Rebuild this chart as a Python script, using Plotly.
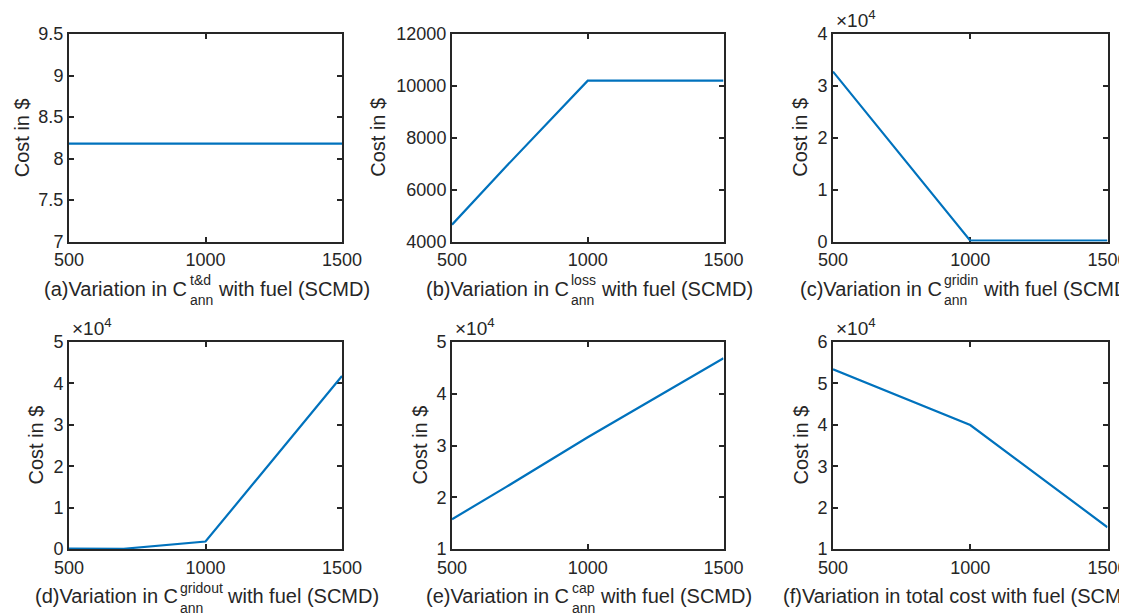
import plotly.graph_objects as go

# ---------------- data ----------------
fuel_x = [500, 700, 1000, 1500]
x_tick_vals = [500, 1000, 1500]
x_tick_text = ["500", "1000", "1500"]

cost_td = [8.18, 8.18, 8.18, 8.18]
cost_loss = [4650, 6900, 10200, 10200]
cost_gridin = [32750, 19700, 150, 150]
cost_gridout = [120, 60, 1800, 41800]
cost_cap = [15750, 22000, 31600, 46850]
cost_total = [53400, 48000, 39950, 15250]

yt_a_vals = [7, 7.5, 8, 8.5, 9, 9.5]
yt_a_text = ["7", "7.5", "8", "8.5", "9", "9.5"]
yt_b_vals = [4000, 6000, 8000, 10000, 12000]
yt_b_text = ["4000", "6000", "8000", "10000", "12000"]
yt_c_vals = [0, 10000, 20000, 30000, 40000]
yt_c_text = ["0", "1", "2", "3", "4"]
yt_d_vals = [0, 10000, 20000, 30000, 40000, 50000]
yt_d_text = ["0", "1", "2", "3", "4", "5"]
yt_e_vals = [10000, 20000, 30000, 40000, 50000]
yt_e_text = ["1", "2", "3", "4", "5"]
yt_f_vals = [10000, 20000, 30000, 40000, 50000, 60000]
yt_f_text = ["1", "2", "3", "4", "5", "6"]

captions = [
    ("(a)Variation in C", "t&amp;d", "ann", "with fuel (SCMD)"),
    ("(b)Variation in C", "loss", "ann", "with fuel (SCMD)"),
    ("(c)Variation in C", "gridin", "ann", "with fuel (SCMD)"),
    ("(d)Variation in C", "gridout", "ann", "with fuel (SCMD)"),
    ("(e)Variation in C", "cap", "ann", "with fuel (SCMD)"),
    ("(f)Variation in total cost with fuel (SCMD)", None, None, None),
]
y_title = "Cost in $"
exp_label = "×10<sup>4</sup>"

# ---------------- layout geometry ----------------
OFF = 8                      # default page body margin
W, H = 1127 - OFF, 615 - OFF
FONT = "Liberation Sans, Arial, Helvetica, sans-serif"
TXT = "#262626"
cols = [(69, 342), (452, 723.5), (833, 1107.5)]
rows = [(34, 241.5), (342, 549)]
ytitle_x = [[21.5, 378, 800], [35, 419, 800]]
cap_shift = [[0, 0, -4], [0, 0, -7]]

WID = {' ': 278, '(': 333, ')': 333, 'a': 556, 'b': 556, 'c': 500, 'd': 556, 'e': 556,
       'f': 278, 'g': 556, 'h': 556, 'i': 222, 'l': 222, 'n': 556, 'o': 556, 'p': 556,
       'r': 333, 's': 500, 't': 278, 'u': 556, 'w': 722, 'C': 722, 'D': 722, 'M': 833,
       'S': 667, 'V': 667, '&': 667}


def tw(s, fs):
    s = s.replace("&amp;", "&")
    return sum(WID.get(ch, 556) for ch in s) / 1000.0 * fs


def px(x):
    return (x - OFF) / W


def py(y):
    return 1 - (y - OFF) / H


panels = [
    (cost_td, [7, 9.5], yt_a_vals, yt_a_text, False),
    (cost_loss, [4000, 12000], yt_b_vals, yt_b_text, False),
    (cost_gridin, [0, 40000], yt_c_vals, yt_c_text, True),
    (cost_gridout, [0, 50000], yt_d_vals, yt_d_text, True),
    (cost_cap, [10000, 50000], yt_e_vals, yt_e_text, True),
    (cost_total, [10000, 60000], yt_f_vals, yt_f_text, True),
]

fig = go.Figure()
annotations = []
axis_common = dict(showline=True, linewidth=2, linecolor=TXT, mirror="ticks",
                   ticks="inside", ticklen=5, tickwidth=1.5, tickcolor=TXT,
                   showgrid=False, zeroline=False, layer="below traces",
                   automargin=False,
                   tickfont=dict(family=FONT, size=18, color=TXT))

FS_T = 20    # caption / y-title font
FS_S = 14    # super/subscript font

for i, (yvals, yr, tv, tt, has_exp) in enumerate(panels):
    r, c = divmod(i, 3)
    x0, x1 = cols[c]
    y0, y1 = rows[r]
    k = "" if i == 0 else str(i + 1)
    fig.add_trace(go.Scatter(x=fuel_x, y=yvals, mode="lines",
                             line=dict(color="#0072BD", width=2.2),
                             xaxis="x" + k, yaxis="y" + k, showlegend=False))
    fig.layout["xaxis" + k] = dict(axis_common, domain=[px(x0), px(x1)], range=[500, 1500],
                                   anchor="y" + k, tickvals=x_tick_vals, ticktext=x_tick_text,
                                   ticklabelstandoff=1, ticklabeloverflow="allow")
    fig.layout["yaxis" + k] = dict(axis_common, domain=[py(y1), py(y0)], range=yr,
                                   anchor="x" + k, tickvals=tv, ticktext=tt,
                                   ticklabelstandoff=0)

    # y title
    annotations.append(dict(text=y_title, textangle=-90, xref="paper", yref="paper",
                            x=px(ytitle_x[r][c]), y=py((y0 + y1) / 2),
                            xanchor="center", yanchor="middle", showarrow=False,
                            font=dict(family=FONT, size=FS_T, color=TXT)))
    # exponent label
    if has_exp:
        base = y0 - 6
        annotations.append(dict(text=exp_label, xref="paper", yref="paper",
                                x=px(x0 + 1), y=py(base + 0.212 * 19 + 1),
                                xanchor="left", yanchor="bottom", showarrow=False,
                                font=dict(family=FONT, size=19, color=TXT)))
    # caption
    pre, sup, sub, post = captions[i]
    base = y1 + 55
    cx = (x0 + x1) / 2 + cap_shift[r][c]
    if sup is None:
        annotations.append(dict(text=pre, xref="paper", yref="paper",
                                x=px(cx), y=py(base + 0.212 * FS_T + 1),
                                xanchor="center", yanchor="bottom", showarrow=False,
                                font=dict(family=FONT, size=FS_T, color=TXT)))
    else:
        wpre = tw(pre, FS_T)
        wmid = max(tw(sup, FS_S), tw(sub, FS_S))
        wsp = tw(" ", FS_T)
        wpost = tw(post, FS_T)
        total = wpre + wmid + wsp + wpost
        sx = cx - total / 2
        annotations.append(dict(text=pre, xref="paper", yref="paper",
                                x=px(sx - 1), y=py(base + 0.212 * FS_T + 1),
                                xanchor="left", yanchor="bottom", showarrow=False,
                                font=dict(family=FONT, size=FS_T, color=TXT)))
        annotations.append(dict(text=sup, xref="paper", yref="paper",
                                x=px(sx + wpre), y=py(base - 10 + 0.212 * FS_S + 1),
                                xanchor="left", yanchor="bottom", showarrow=False,
                                font=dict(family=FONT, size=FS_S, color=TXT)))
        annotations.append(dict(text=sub, xref="paper", yref="paper",
                                x=px(sx + wpre), y=py(base + 10 + 0.212 * FS_S + 1),
                                xanchor="left", yanchor="bottom", showarrow=False,
                                font=dict(family=FONT, size=FS_S, color=TXT)))
        annotations.append(dict(text=post, xref="paper", yref="paper",
                                x=px(sx + wpre + wmid + wsp - 1), y=py(base + 0.212 * FS_T + 1),
                                xanchor="left", yanchor="bottom", showarrow=False,
                                font=dict(family=FONT, size=FS_T, color=TXT)))

fig.update_layout(width=W, height=H,
                  margin=dict(l=0, r=0, t=0, b=0, pad=0, autoexpand=False),
                  paper_bgcolor="white", plot_bgcolor="white",
                  annotations=annotations, showlegend=False)

fig.write_html("out.html")
